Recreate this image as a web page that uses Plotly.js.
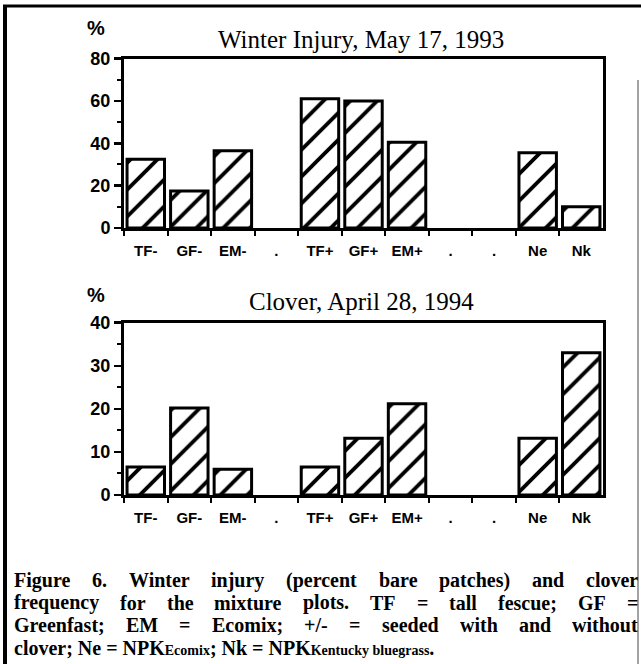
<!DOCTYPE html>
<html><head><meta charset="utf-8">
<script src="https://cdn.plot.ly/plotly-3.0.1.min.js"></script>
<style>html,body{margin:0;padding:0;background:#fff}#chart{width:641px;height:664px}</style>
</head><body><div id="chart"></div>
<script>
// ---- data ----
const categoryIds = ['TF-','GF-','EM-','gap1','TF+','GF+','EM+','gap2','gap3','Ne','Nk'];
const tickLabels  = ['TF-','GF-','EM-','.','TF+','GF+','EM+','.','.','Ne','Nk'];
const winterInjury = [32.5, 17.5, 36.5, null, 61, 60, 40.5, null, null, 35.5, 10];
const cloverFreq   = [6.5, 20.2, 6, null, 6.5, 13.2, 21.2, null, null, 13.2, 33];
const title1 = 'Winter Injury, May 17, 1993';
const title2 = 'Clover, April 28, 1994';
const captionLines = [
  'Figure 6. Winter injury (percent bare patches) and clover',
  'frequency for the mixture plots. TF = tall fescue; GF =',
  'Greenfast; EM = Ecomix; +/- = seeded with and without'
];
const captionLast = 'clover; Ne = NPK<span style="font-size:14px">Ecomix</span>; Nk = NPK<span style="font-size:14px">Kentucky bluegrass</span>.';

// ---- layout helpers ----
const W = 641, H = 664;
const px = x => x / W, py = y => 1 - y / H;
const sans = 'Liberation Sans, Arial, Helvetica, sans-serif';
const serif = 'Liberation Serif, Times New Roman, serif';

function bar(y, xa, ya) {
  return {
    type: 'bar', x: categoryIds, y: y, xaxis: xa, yaxis: ya,
    marker: {color: 'white', line: {color: 'black', width: 3},
      pattern: {shape: '/', fgcolor: 'black', bgcolor: 'white', size: 19, solidity: 0.2}},
    hoverinfo: 'skip'
  };
}

const xDom = [px(124), px(603)];
function xAxis(anchor) {
  return {
    domain: xDom, anchor: anchor, type: 'category',
    categoryorder: 'array', categoryarray: categoryIds,
    tickmode: 'array', tickvals: categoryIds, ticktext: tickLabels,
    tickson: 'boundaries', ticks: 'outside', ticklen: 5, tickwidth: 2, tickcolor: 'black',
    showline: true, linewidth: 3, linecolor: 'black', mirror: true,
    showgrid: false, zeroline: false, fixedrange: true,
    ticklabelstandoff: 7,
    tickfont: {family: sans, size: 15, color: 'black', weight: 'bold'}
  };
}
function yAxis(anchor, dom, max, dtick) {
  return {
    domain: dom, anchor: anchor, range: [0, max], dtick: dtick, tick0: 0,
    ticks: 'outside', ticklen: 7, tickwidth: 2.5, tickcolor: 'black',
    minor: {dtick: dtick / 2, ticks: 'outside', ticklen: 4, tickwidth: 2, tickcolor: 'black', showgrid: false},
    showline: true, linewidth: 3, linecolor: 'black', mirror: true,
    showgrid: false, zeroline: false, fixedrange: true,
    tickfont: {family: sans, size: 18, color: 'black', weight: 'bold'}
  };
}

const annotations = [
  {text: title1, x: px(361), y: py(40), xref: 'paper', yref: 'paper', showarrow: false,
   xanchor: 'center', yanchor: 'middle', font: {family: serif, size: 25, color: 'black'}},
  {text: title2, x: px(361), y: py(301), xref: 'paper', yref: 'paper', showarrow: false,
   xanchor: 'center', yanchor: 'middle', font: {family: serif, size: 25, color: 'black'}},
  {text: '%', x: px(96), y: py(28), xref: 'paper', yref: 'paper', showarrow: false,
   xanchor: 'center', yanchor: 'middle', font: {family: sans, size: 20, color: 'black', weight: 'bold'}},
  {text: '%', x: px(96), y: py(295), xref: 'paper', yref: 'paper', showarrow: false,
   xanchor: 'center', yanchor: 'middle', font: {family: sans, size: 20, color: 'black', weight: 'bold'}}
];

// justified caption lines
const capSize = 20;
const capFont = {family: serif, size: capSize, color: 'black', weight: 'bold'};
const capLeft = 13, capRight = 637, capY = [580, 602.5, 625, 648];
const ctx = document.createElement('canvas').getContext('2d');
ctx.font = 'bold ' + capSize + 'px "Liberation Serif"';
captionLines.forEach((line, i) => {
  const words = line.split(' ');
  const widths = words.map(w => ctx.measureText(w).width);
  const total = widths.reduce((a, b) => a + b, 0);
  const gap = (capRight - capLeft - total) / (words.length - 1);
  let x = capLeft;
  words.forEach((w, j) => {
    annotations.push({text: w, x: px(x), y: py(capY[i]), xref: 'paper', yref: 'paper',
      xanchor: 'left', yanchor: 'middle', showarrow: false, borderpad: 0, font: capFont});
    x += widths[j] + gap;
  });
});
annotations.push({text: captionLast, x: px(capLeft), y: py(capY[3]), xref: 'paper', yref: 'paper',
  xanchor: 'left', yanchor: 'middle', showarrow: false, borderpad: 0, font: capFont});

const shapes = [
  {type: 'line', xref: 'paper', yref: 'paper', x0: px(5), x1: px(5), y0: py(5), y1: py(664), line: {color: 'black', width: 4}},
  {type: 'line', xref: 'paper', yref: 'paper', x0: px(3), x1: px(641), y0: py(6), y1: py(6), line: {color: 'black', width: 3}},
  {type: 'line', xref: 'paper', yref: 'paper', x0: px(638), x1: px(638), y0: py(80), y1: py(664), line: {color: '#666', width: 1.2}}
];

const layout = {
  width: W, height: H, margin: {l: 0, r: 0, t: 0, b: 0},
  paper_bgcolor: 'white', plot_bgcolor: 'white', showlegend: false,
  bargap: 0.14,
  xaxis: xAxis('y'), yaxis: yAxis('x', [py(228), py(58.5)], 80, 20),
  xaxis2: xAxis('y2'), yaxis2: yAxis('x2', [py(495), py(322.7)], 40, 10),
  annotations: annotations, shapes: shapes
};

Plotly.newPlot('chart', [bar(winterInjury, 'x', 'y'), bar(cloverFreq, 'x2', 'y2')], layout,
  {displayModeBar: false, staticPlot: true});
</script></body></html>
